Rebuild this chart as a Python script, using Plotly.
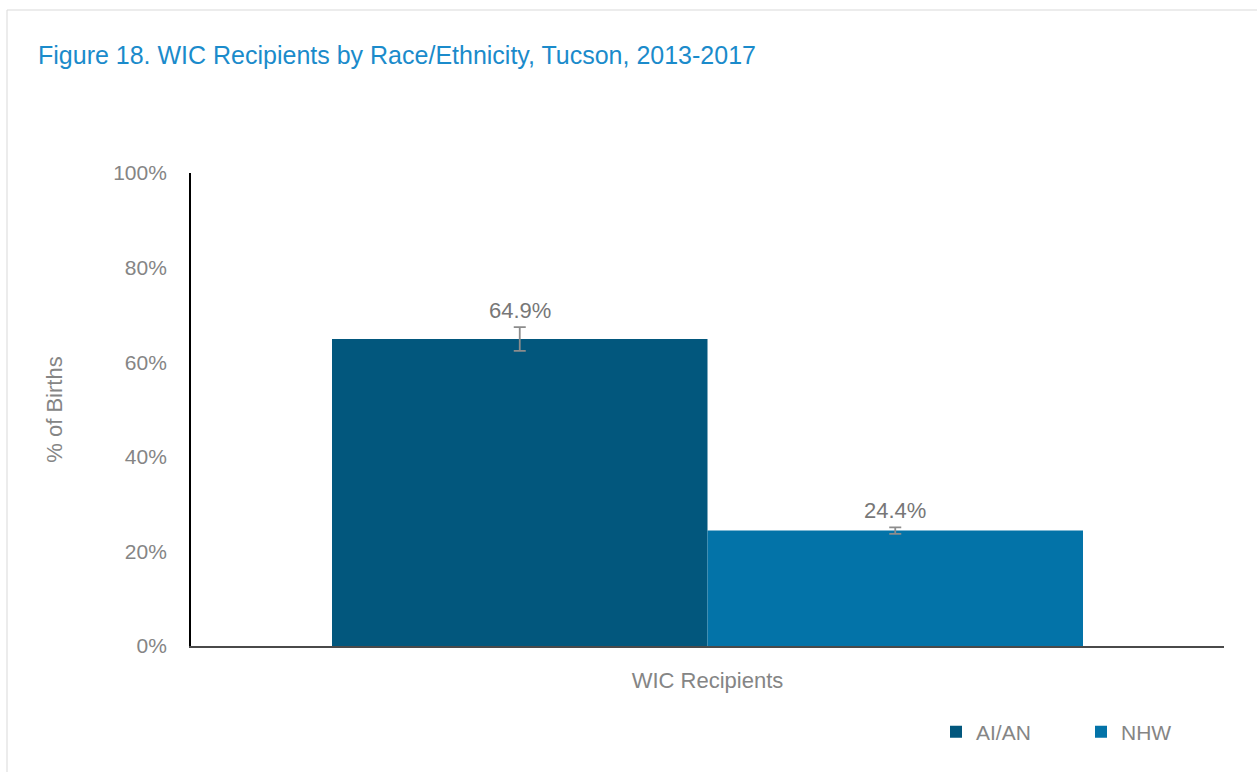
import plotly.graph_objects as go

categories = ["WIC Recipients"]
groups = ["AI/AN", "NHW"]
values = {"AI/AN": [64.9], "NHW": [24.4]}
errors = {"AI/AN": [2.5], "NHW": [0.7]}
colors = {"AI/AN": "#02577D", "NHW": "#0373A8"}
yticks = [0, 20, 40, 60, 80, 100]
ytick_labels = ["0%", "20%", "40%", "60%", "80%", "100%"]

FONT = "Liberation Sans, Arial, sans-serif"
GREY = "#858585"
BARGAP = 0.273

fig = go.Figure()
for g in groups:
    fig.add_trace(go.Bar(
        name=g, x=categories, y=values[g],
        marker=dict(color=colors[g], line=dict(width=0)),
        error_y=dict(type="data", array=errors[g], color="#8c8c8c", thickness=1.8, width=6),
    ))

annotations = []
n = len(groups)
for i, g in enumerate(groups):
    for j, c in enumerate(categories):
        offset = (i - (n - 1) / 2) * (1 - BARGAP) / n
        annotations.append(dict(
            x=j + offset, y=values[g][j] + errors[g][j], xref="x", yref="y",
            text=f"{values[g][j]:.1f}%", showarrow=False, yanchor="bottom", yshift=2,
            font=dict(family=FONT, size=22, color="#777777"),
        ))

fig.update_layout(
    width=1257, height=772,
    margin=dict(l=191, r=33, t=173, b=126),
    paper_bgcolor="white", plot_bgcolor="white",
    barmode="group", bargap=BARGAP, bargroupgap=0,
    font=dict(family=FONT, color=GREY),
    title=dict(text="Figure 18. WIC Recipients by Race/Ethnicity, Tucson, 2013-2017",
               x=38 / 1257, xanchor="left", y=1 - 55 / 772, yanchor="middle",
               font=dict(family=FONT, size=25, color="#1B8BCB")),
    showlegend=True,
    legend=dict(orientation="h", xref="container", yref="container",
                x=936 / 1257, xanchor="left", y=1 - 732 / 772, yanchor="middle",
                font=dict(family=FONT, size=21, color=GREY),
                traceorder="normal", entrywidth=100),
    annotations=annotations,
    shapes=[dict(type="rect", xref="paper", yref="paper",
                 x0=(7 - 191) / 1033, x1=(1265 - 191) / 1033,
                 y0=(646 - 780) / 473, y1=(646 - 10) / 473,
                 line=dict(color="#d9d9d9", width=1), layer="below")],
)
fig.update_xaxes(
    showline=True, linecolor="#4a4a4a", linewidth=1.8, ticks="",
    tickfont=dict(family=FONT, size=22, color=GREY), ticklabelstandoff=14,
)
fig.update_yaxes(
    range=[0, 100], tickvals=yticks, ticktext=ytick_labels,
    showgrid=False, zeroline=False, showline=True, linecolor="#000000", linewidth=1.8,
    tickfont=dict(family=FONT, size=21, color=GREY), ticklabelstandoff=18,
    title=dict(text="% of Births", font=dict(family=FONT, size=22, color=GREY), standoff=44),
)
fig.write_html("out.html", config={"displayModeBar": False},
               post_script="document.body.style.margin='0px';")
